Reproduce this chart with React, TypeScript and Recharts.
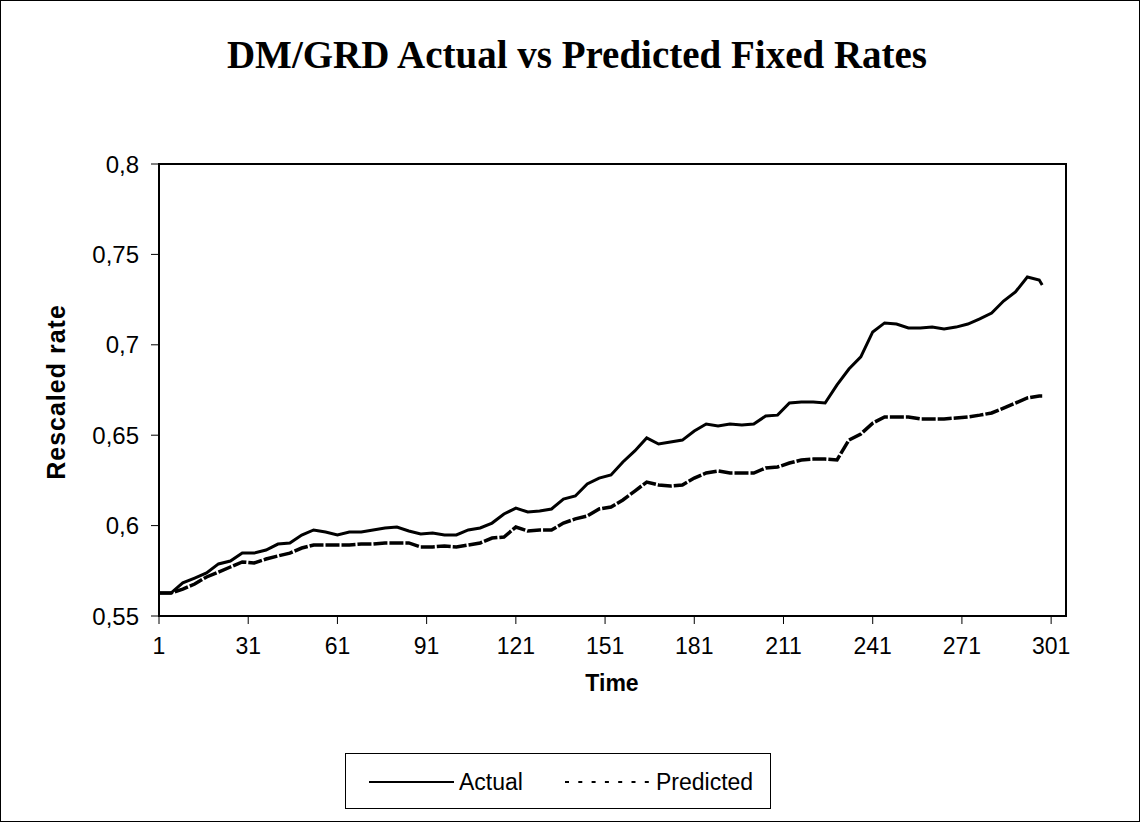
import { LineChart, Line, XAxis, YAxis, ReferenceArea, Label } from "recharts";

// time index of each sampled point (every 4th observation)
const times = [
  1, 5, 9, 13, 17, 21, 25, 29, 33, 37, 41, 45, 49, 53, 57, 61, 65, 69, 73, 77,
  81, 85, 89, 93, 97, 101, 105, 109, 113, 117, 121, 125, 129, 133, 137, 141,
  145, 149, 153, 157, 161, 165, 169, 173, 177, 181, 185, 189, 193, 197, 201,
  205, 209, 213, 217, 221, 225, 229, 233, 237, 241, 245, 249, 253, 257, 261,
  265, 269, 273, 277, 281, 285, 289, 293, 297, 298,
];

const actual = [
  0.5627, 0.5627, 0.5683, 0.571, 0.5738, 0.5788, 0.5804, 0.5848, 0.5848,
  0.5865, 0.5898, 0.5904, 0.5948, 0.5976, 0.5965, 0.5948, 0.5965, 0.5965,
  0.5976, 0.5987, 0.5992, 0.597, 0.5954, 0.5959, 0.5948, 0.5948, 0.5976,
  0.5987, 0.6014, 0.6064, 0.6097, 0.6075, 0.6081, 0.6092, 0.6147, 0.6164,
  0.623, 0.6263, 0.628, 0.6352, 0.6413, 0.6485, 0.6451, 0.6462, 0.6473,
  0.6523, 0.6562, 0.6551, 0.6562, 0.6556, 0.6562, 0.6606, 0.6611, 0.6678,
  0.6684, 0.6684, 0.6678, 0.6778, 0.6866, 0.6933, 0.7071, 0.7121, 0.7115,
  0.7093, 0.7093, 0.7098, 0.7087, 0.7098, 0.7115, 0.7143, 0.7176, 0.7242,
  0.7292, 0.7375, 0.7358, 0.7331,
];

const predicted = [
  0.5627, 0.5627, 0.5649, 0.5677, 0.5716, 0.5743, 0.5771, 0.5799, 0.5793,
  0.5815, 0.5832, 0.5848, 0.5876, 0.5893, 0.5893, 0.5893, 0.5893, 0.5898,
  0.5898, 0.5904, 0.5904, 0.5904, 0.5882, 0.5882, 0.5887, 0.5882, 0.5893,
  0.5904, 0.5931, 0.5937, 0.5992, 0.597, 0.5976, 0.5976, 0.6014, 0.6037,
  0.6053, 0.6092, 0.6103, 0.6142, 0.6191, 0.6241, 0.6225, 0.6219, 0.6225,
  0.6263, 0.6291, 0.6302, 0.6291, 0.6291, 0.6291, 0.6319, 0.6324, 0.6346,
  0.6363, 0.6368, 0.6368, 0.6363, 0.6473, 0.6507, 0.6567, 0.6601, 0.6601,
  0.6601, 0.659, 0.659, 0.659, 0.6595, 0.6601, 0.6611, 0.6623, 0.665, 0.6678,
  0.6706, 0.6717, 0.6717,
];

const xTicks = [1, 31, 61, 91, 121, 151, 181, 211, 241, 271, 301];
const yTicks = [0.55, 0.6, 0.65, 0.7, 0.75, 0.8];

const data = times.map((t, i) => ({
  t,
  actual: actual[i],
  predicted: predicted[i],
}));

const sans = "'Liberation Sans', Arial, sans-serif";

export default function App() {
  return (
    <div
      style={{
        position: "absolute",
        left: 0,
        top: 0,
        width: 1141,
        height: 823,
        background: "#fff",
      }}
    >
      <div
        style={{
          position: "absolute",
          left: 0,
          top: 0,
          width: 1140,
          height: 822,
          border: "1px solid #000",
          boxSizing: "border-box",
        }}
      />
      <div
        style={{
          position: "absolute",
          left: 0,
          top: 33,
          width: 1154,
          textAlign: "center",
          fontFamily: "'Liberation Serif', 'Times New Roman', serif",
          fontWeight: "bold",
          fontSize: 39,
          lineHeight: "44px",
        }}
      >
        DM/GRD Actual vs Predicted Fixed Rates
      </div>
      <LineChart
        width={1141}
        height={823}
        data={data}
        margin={{ top: 164, right: 75, bottom: 147, left: 0 }}
        style={{ position: "absolute", left: 0, top: 0 }}
      >
        <XAxis
          dataKey="t"
          type="number"
          domain={[1, 306]}
          ticks={xTicks}
          interval={0}
          height={60}
          tickSize={8}
          tickMargin={14}
          axisLine={{ stroke: "#000", strokeWidth: 2 }}
          tickLine={{ stroke: "#000" }}
          tick={{ fill: "#000", fontSize: 23, fontFamily: sans }}
        >
          <Label
            content={() => (
              <text
                x={612}
                y={691}
                textAnchor="middle"
                fontFamily={sans}
                fontSize={23}
                fontWeight="bold"
                fill="#000"
              >
                Time
              </text>
            )}
          />
        </XAxis>
        <YAxis
          type="number"
          domain={[0.55, 0.8]}
          ticks={yTicks}
          width={159}
          tickSize={8}
          tickMargin={12}
          axisLine={{ stroke: "#000", strokeWidth: 2 }}
          tickLine={{ stroke: "#000" }}
          tick={{ fill: "#000", fontSize: 24, fontFamily: sans }}
          tickFormatter={(v) => String(v).replace(".", ",")}
        >
          <Label
            content={() => (
              <text
                x={56}
                y={392}
                transform="rotate(-90 56 392)"
                textAnchor="middle"
                dominantBaseline="central"
                fontFamily={sans}
                fontSize={25}
                letterSpacing={1}
                fontWeight="bold"
                fill="#000"
              >
                Rescaled rate
              </text>
            )}
          />
        </YAxis>
        <ReferenceArea
          x1={1}
          x2={306}
          y1={0.55}
          y2={0.8}
          fill="none"
          stroke="#000"
          strokeWidth={2}
          ifOverflow="visible"
        />
        <Line
          type="linear"
          dataKey="predicted"
          stroke="#000"
          strokeWidth={3.5}
          strokeDasharray="14 2"
          dot={false}
          isAnimationActive={false}
        />
        <Line
          type="linear"
          dataKey="actual"
          stroke="#000"
          strokeWidth={3}
          dot={false}
          isAnimationActive={false}
        />
      </LineChart>
      <div
        style={{
          position: "absolute",
          left: 345,
          top: 753,
          width: 426,
          height: 56,
          border: "1px solid #000",
          boxSizing: "border-box",
          fontFamily: sans,
          fontSize: 23,
        }}
      >
        <svg
          width={424}
          height={54}
          style={{ position: "absolute", left: 0, top: 0 }}
        >
          <line x1={23} y1={28} x2={108} y2={28} stroke="#000" strokeWidth={2} />
          <text x={113} y={36} fill="#000" fontFamily={sans} fontSize={23}>
            Actual
          </text>
          <line
            x1={219}
            y1={28}
            x2={305}
            y2={28}
            stroke="#000"
            strokeWidth={2}
            strokeDasharray="4 9.3"
          />
          <text x={310} y={36} fill="#000" fontFamily={sans} fontSize={23}>
            Predicted
          </text>
        </svg>
      </div>
    </div>
  );
}
